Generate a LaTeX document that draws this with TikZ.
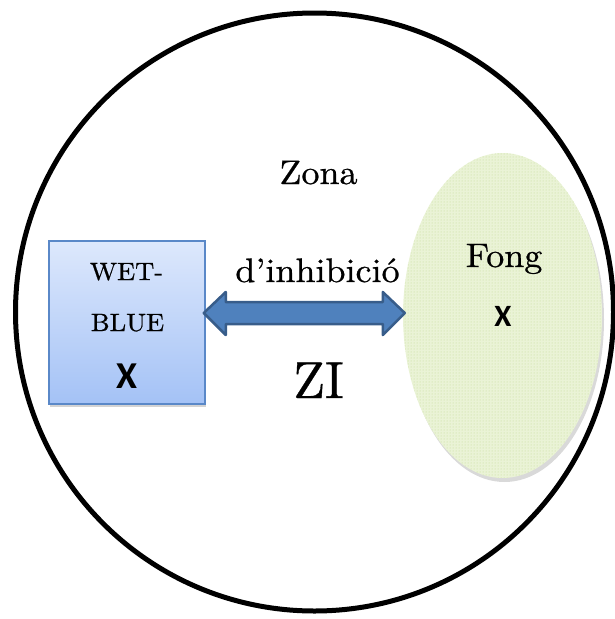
\documentclass[tikz,border=0pt]{standalone}
\usepackage{fontspec}
\setmainfont{lmroman10-regular.otf}[FakeStretch=1.06, FakeBold=0.7]
\newfontfamily\ziFont{lmroman10-regular.otf}[FakeBold=0.7]
\newfontfamily\xfont{Carlito}
\usetikzlibrary{shapes.geometric,shadows,patterns,calc}
\definecolor{boxtop}{HTML}{DDE8FC}
\definecolor{boxbot}{HTML}{A4C2F6}
\definecolor{boxedge}{HTML}{5A88C8}
\definecolor{arrfill}{HTML}{4F81BD}
\definecolor{arredge}{HTML}{385D8A}
\definecolor{fongfill}{HTML}{EAF3D6}
\definecolor{fongdot}{HTML}{C3DA92}
\tikzset{
  dish/.style={circle, draw=black, line width=5pt, minimum size=598pt, inner sep=0pt},
  wetbox/.style={rectangle, draw=boxedge, line width=1.5pt, top color=boxtop, bottom color=boxbot,
     minimum width=156pt, minimum height=163pt, inner sep=0pt,
     drop shadow={opacity=0.35, shadow xshift=1pt, shadow yshift=-3pt}},
  fongshape/.style={ellipse, minimum width=199pt, minimum height=325pt, inner sep=0pt, fill=fongfill,
     drop shadow={opacity=0.3, shadow xshift=2pt, shadow yshift=-4pt}},
  label/.style={anchor=base, inner sep=0pt, font=\fontsize{34}{40}\selectfont},
  smalllabel/.style={anchor=base, inner sep=0pt, font=\fontsize{25}{30}\selectfont},
  xmark/.style={anchor=base, inner sep=0pt, font=\xfont\bfseries\fontsize{#1}{#1}\selectfont},
  fatarrow/.style={fill=arrfill, draw=arredge, line width=2.5pt, line join=round}
}
\begin{document}
\begin{tikzpicture}[x=1pt, y=-1pt]
\useasboundingbox (0,0) rectangle (615,619);
\node[dish] (dish) at (314.5,312) {};
\node[wetbox] (box) at (127,322.5) {};
\node[fongshape] (fong) at (502.5,315.5) {};
\path[pattern=dots, pattern color=fongdot] (fong.center) ellipse [x radius=99.5pt, y radius=162.5pt];
% double arrow between box and fungus
\path (box.east) ++(-2,-9.5) coordinate (tipL);
\path (fong.west) ++(2,-2.5) coordinate (tipR);
\draw[fatarrow] (tipL) -- ++(22,-21) -- ++(0,10) -- ($(tipR)+(-22,-11)$) -- ++(0,-10) -- (tipR)
   -- ++(-22,22) -- ++(0,-11) -- ($(tipL)+(22,11)$) -- ++(0,11) -- cycle;
\node[label] (zona) at (318.5,184) {Zona};
\node[label] (inhib) at (317.5,282) {d’inhibició};
\node[anchor=base, inner sep=0pt, font=\ziFont\fontsize{52}{60}\selectfont] (zi) at (318.5,398) {ZI};
\node[smalllabel] (wet) at (126.5,280) {WET-};
\node[smalllabel] (blue) at (127.5,331) {BLUE};
\node[xmark=38] (xbox) at (126.7,388) {X};
\node[label] (fongtxt) at (504,267) {Fong};
\node[xmark=31] (xfong) at (503,326) {X};
\end{tikzpicture}
\end{document}
